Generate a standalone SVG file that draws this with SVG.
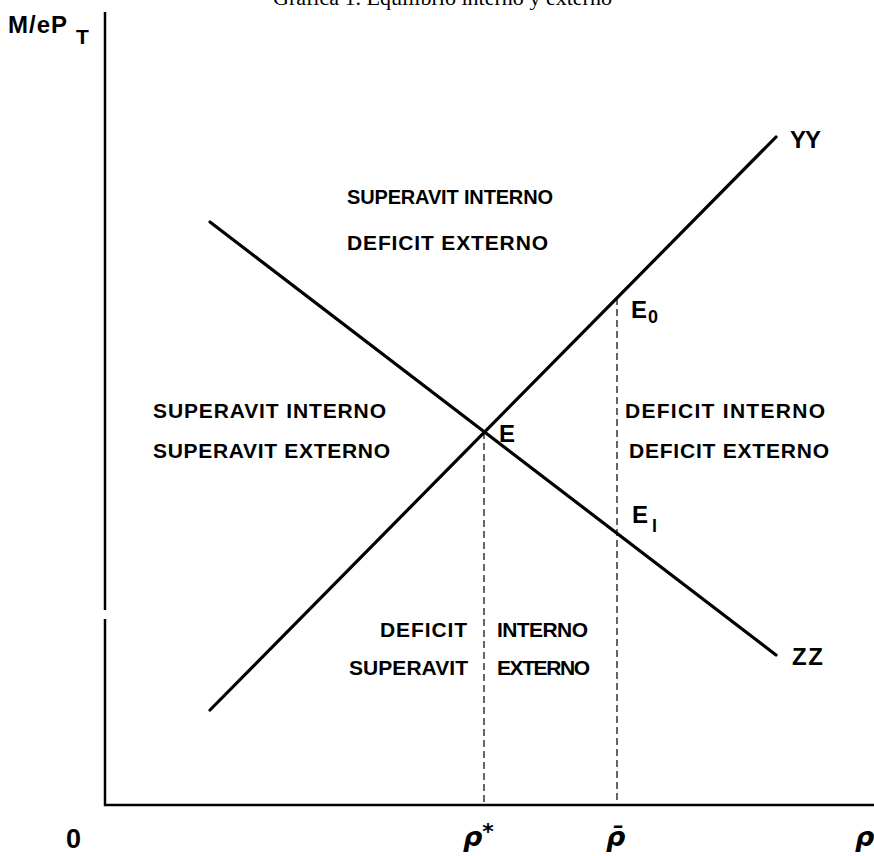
<svg xmlns="http://www.w3.org/2000/svg" width="874" height="856" viewBox="0 0 874 856">
<style>
.lbl{font-family:"Liberation Sans",Arial,sans-serif;font-weight:bold;font-size:21px;fill:#000}
.big{font-family:"Liberation Sans",Arial,sans-serif;font-weight:bold;font-size:24px;fill:#000}
.sub{font-family:"Liberation Sans",Arial,sans-serif;font-weight:bold;font-size:18px;fill:#000}
.ax{stroke:#000;stroke-width:2.5;fill:none}
.crv{stroke:#000;stroke-width:3.2;fill:none;stroke-linecap:round}
.dsh{stroke:#000;stroke-width:1.2;fill:none;stroke-dasharray:7 4}
.rho{font-family:"DejaVu Sans","Liberation Sans",sans-serif;font-style:italic;font-weight:bold;font-size:27px;fill:#000}
</style>
<rect width="874" height="856" fill="#fff"/>
<text x="273" y="5" style="font-family:'Liberation Serif',serif;font-size:20px" textLength="339" lengthAdjust="spacingAndGlyphs">Gráfica 1. Equilibrio interno y externo</text>
<g id="axes">
<line class="ax" x1="105" y1="12" x2="105" y2="610"/>
<line class="ax" x1="105" y1="619" x2="105" y2="806"/>
<line class="ax" x1="104" y1="805" x2="874" y2="805"/>
</g>
<g id="connectors">
<line id="YY-line" class="crv" x1="210" y1="710" x2="776" y2="137"/>
<line id="ZZ-line" class="crv" x1="210" y1="222" x2="776" y2="655"/>
<line class="dsh" x1="484" y1="432" x2="484" y2="805"/>
<line class="dsh" x1="617" y1="298" x2="617" y2="805"/>
</g>
<g id="axis-labels">
<text class="big" x="8" y="33" textLength="59" lengthAdjust="spacing">M/eP</text>
<text class="sub" x="76" y="44" style="font-size:21px">T</text>
<text class="big" x="66" y="848" style="font-size:27px">0</text>
<text class="rho" x="463" y="846">ρ<tspan style="font-size:22px;font-style:normal" dy="-7">*</tspan></text>
<text class="rho" x="606" y="846">ρ̄</text>
<text class="rho" x="855" y="846">ρ</text>
</g>
<g id="YY"><text class="big" x="790" y="148" textLength="31" lengthAdjust="spacing">YY</text></g>
<g id="ZZ"><text class="big" x="792" y="665" textLength="31" lengthAdjust="spacing">ZZ</text></g>
<g id="E"><text class="big" x="499" y="442">E</text></g>
<g id="E0"><text class="big" x="631" y="318">E</text><text class="sub" x="648" y="323">0</text></g>
<g id="E1"><text class="big" x="632" y="523">E</text><text class="sub" x="652" y="532">l</text></g>
<g id="region-top">
<text class="lbl" x="347" y="204" style="font-size:20px" textLength="206" lengthAdjust="spacing">SUPERAVIT  INTERNO</text>
<text class="lbl" x="347" y="250" textLength="201" lengthAdjust="spacing">DEFICIT EXTERNO</text>
</g>
<g id="region-left">
<text class="lbl" x="153" y="418" textLength="233" lengthAdjust="spacing">SUPERAVIT INTERNO</text>
<text class="lbl" x="153" y="458" textLength="237" lengthAdjust="spacing">SUPERAVIT EXTERNO</text>
</g>
<g id="region-right">
<text class="lbl" x="625" y="418" textLength="200" lengthAdjust="spacing">DEFICIT INTERNO</text>
<text class="lbl" x="629" y="458" textLength="200" lengthAdjust="spacing">DEFICIT EXTERNO</text>
</g>
<g id="region-bottom">
<text class="lbl" x="380" y="637" textLength="87" lengthAdjust="spacing">DEFICIT</text>
<text class="lbl" x="497" y="637" textLength="91" lengthAdjust="spacing">INTERNO</text>
<text class="lbl" x="349" y="675" textLength="119" lengthAdjust="spacing">SUPERAVIT</text>
<text class="lbl" x="497" y="675" textLength="93" lengthAdjust="spacing">EXTERNO</text>
</g>
</svg>
